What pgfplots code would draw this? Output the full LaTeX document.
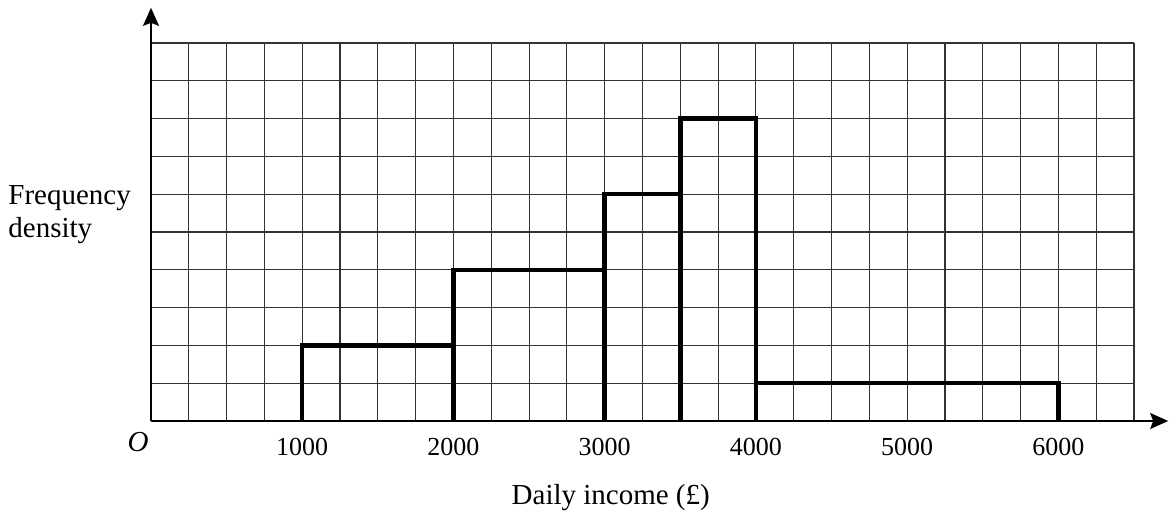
\documentclass[border=0pt]{standalone}
\usepackage{pgfplots}
\pgfplotsset{compat=1.18}
\usepackage{fontspec}
\setmainfont{Liberation Serif}
\usetikzlibrary{arrows.meta}

\begin{document}
\begin{tikzpicture}
\useasboundingbox (-75.5pt,-45.5pt) rectangle (510pt,210.5pt);
\begin{axis}[
    anchor=origin,
    at={(0pt,0pt)},
    scale only axis,
    width=491.5pt,
    height=189pt,
    xmin=0, xmax=6500,
    ymin=0, ymax=10,
    clip=false,
    axis line style={draw=none},
    xtick={1000,2000,...,6000},
    minor xtick={0,250,...,6500},
    ytick={0,1,...,10},
    yticklabels={},
    major tick length=0pt,
    minor tick length=0pt,
    grid=both,
    grid style={black!80, line width=0.55pt},
    minor grid style={black!80, line width=0.55pt},
    /pgf/number format/assume math mode=true,
    /pgf/number format/1000 sep={},
    xticklabel style={font=\fontsize{13}{15}\selectfont, anchor=north, inner sep=0pt, yshift=-8.5pt},
]
% histogram outline: class boundaries and frequency densities (grid units)
\addplot[sharp plot, draw=black, mark=none, line width=2.2pt, line join=miter]
  coordinates {(1000,0) (1000,2) (2000,2) (2000,0) (2000,4) (3000,4) (3000,0)
               (3000,6) (3500,6) (3500,0) (3500,8) (4000,8) (4000,0)
               (4000,1) (6000,1) (6000,0)};
% axes with arrows
\draw[line width=1pt, -{Stealth[length=9pt, width=8pt, inset=1.5pt]}]
  (axis cs:0,0) -- (axis cs:6726,0);
\draw[line width=1pt, -{Stealth[length=9pt, width=8pt, inset=1.5pt]}]
  (axis cs:0,0) -- (axis cs:0,10.93);
\node[anchor=north east, inner sep=0pt, xshift=-1pt, yshift=-5.5pt,
      font=\fontsize{14.5}{17}\selectfont\itshape] at (axis cs:0,0) {O};
\node[anchor=base, inner sep=0pt, yshift=-42pt,
      font=\fontsize{14.5}{17}\selectfont] at (axis cs:3040,0) {Daily income (£)};
\end{axis}
\node[anchor=base west, inner sep=0pt, font=\fontsize{14.5}{17}\selectfont]
  at (-71.5pt,108pt) {Frequency};
\node[anchor=base west, inner sep=0pt, font=\fontsize{14.5}{17}\selectfont]
  at (-71.5pt,91.5pt) {density};
\end{tikzpicture}
\end{document}
